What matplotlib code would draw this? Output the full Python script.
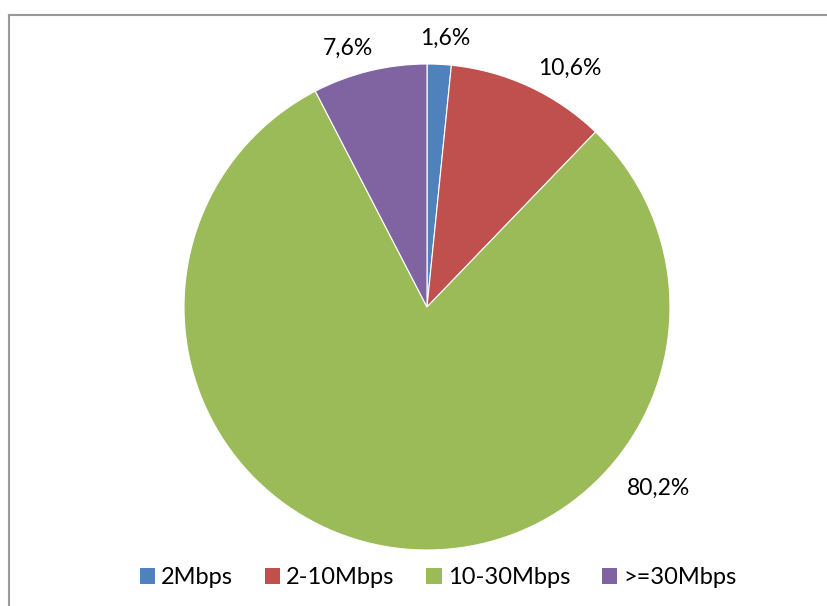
import matplotlib.pyplot as plt
from matplotlib.patches import Patch
from matplotlib.lines import Line2D

# data
categories = ['2Mbps', '2-10Mbps', '10-30Mbps', '>=30Mbps']
shares = [1.6, 10.6, 80.2, 7.6]
colors = ['#4F81BD', '#C0504D', '#9BBB59', '#8064A2']

# label positions (in pie radius units), Excel "best fit" style
label_pos = [(0.074, 1.107), (0.588, 0.984), (0.951, -0.745), (-0.325, 1.066)]

plt.rcParams['font.family'] = ['Lato', 'DejaVu Sans']

W, H = 828, 606
fig = plt.figure(figsize=(W / 100, H / 100), dpi=100)

# pie centre at (427, 307) px, radius 243 px
cx, cy, r = 427, 307, 243
ax = fig.add_axes([(cx - r) / W, (H - cy - r) / H, 2 * r / W, 2 * r / H])
ax.pie(shares, colors=colors, startangle=90, counterclock=False, radius=1,
       wedgeprops=dict(edgecolor='white', linewidth=0.8))
ax.set_xlim(-1, 1)
ax.set_ylim(-1, 1)
ax.set_aspect('equal')
ax.axis('off')

for v, (x, y) in zip(shares, label_pos):
    txt = ('%.1f%%' % v).replace('.', ',')
    ax.text(x, y, txt, ha='center', va='center', fontsize=16.5, clip_on=False)

# chart border (cropped at right and bottom)
fig.add_artist(Line2D([9 / W, 1.0], [1 - 15 / H, 1 - 15 / H], color='#999999', lw=1.5))
fig.add_artist(Line2D([9 / W, 9 / W], [1 - 15 / H, 0.0], color='#999999', lw=1.5))

handles = [Patch(facecolor=c, edgecolor='none') for c in colors]
fig.legend(handles, categories, loc='center', bbox_to_anchor=(438 / W, 1 - 578 / H),
           ncol=4, frameon=False, fontsize=17, handlelength=0.65, handleheight=0.65,
           handletextpad=0.25, columnspacing=1.35)

plt.savefig('out.png', dpi=100)
